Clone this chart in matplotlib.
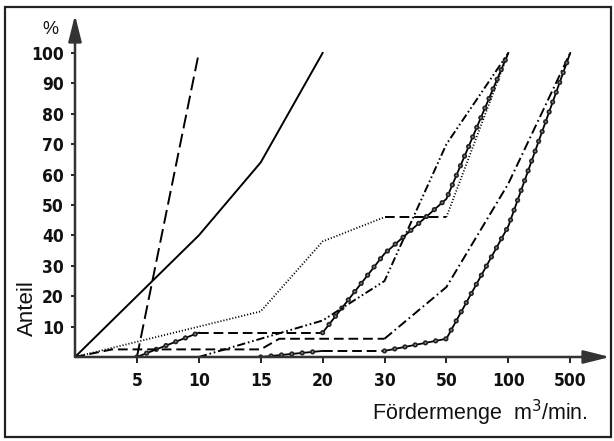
import numpy as np
import matplotlib
matplotlib.use("Agg")
import matplotlib.pyplot as plt
from matplotlib.patches import Rectangle

plt.rcParams['lines.scale_dashes'] = False

# x axis is categorical: Fördermenge in m3/min, equal spacing
categories = [0, 5, 10, 15, 20, 30, 50, 100, 500]
x_tick_values = [5, 10, 15, 20, 30, 50, 100, 500]
y_tick_values = [10, 20, 30, 40, 50, 60, 70, 80, 90, 100]

# long dashes, steep
a_x = [5, 10]
a_y = [0, 100]

# solid
b_x = [0, 10, 15, 20]
b_y = [0, 40, 64, 100]

# dotted, with a dashed plateau
c1_x = [0, 10, 15, 20, 30]
c1_y = [0, 10, 15, 38, 46]
c2_x = [30, 50]
c2_y = [46, 46]
c3_x = [50, 100]
c3_y = [46, 100]

# chain of circles, first
d1_x = [5, 10]
d1_y = [0, 8]
d2_x = [10, 20]
d2_y = [8, 8]
d3_x = [20, 30, 50, 100]
d3_y = [8, 34, 52, 100]

# dash-dot, ends at 500
e1_x = [0, 3, 15, 16.5, 30]
e1_y = [0, 2.5, 2.5, 6, 6]
e2_x = [30, 50, 100, 500]
e2_y = [6, 23, 57, 100]

# chain of circles, second
f1_x = [15, 20]
f1_y = [0, 2]
f2_x = [20, 30]
f2_y = [2, 2]
f3_x = [30, 50, 100, 500]
f3_y = [2, 6, 43, 100]

# dash-dot-dot
g_x = [10, 15, 20, 30, 50, 100]
g_y = [0, 6, 12, 25, 70, 100]


def pos(v):
    return np.interp(v, categories, np.arange(len(categories)))


long_dash = (0, (10, 4))
dash = (0, (7, 3.5))
dotted = (0, (0.8, 1.4))
dash_dot = (0, (7, 2.5, 1.2, 2.5))
dash_dot_dot = (0, (6, 2, 1.2, 2, 1.2, 2))


def chain(ax, x, y):
    ax.plot(pos(x), y, color='k', lw=1.3)
    ax.plot(pos(x), y, color='#222', lw=3.8, linestyle=(0, (0.01, 7.5)),
            dash_capstyle='round')
    ax.plot(pos(x), y, color='#888', lw=1.4, linestyle=(0, (0.01, 7.5)),
            dash_capstyle='round')


fig = plt.figure(figsize=(6.14, 4.41), dpi=100)
fig.patches.append(Rectangle((5 / 614, 4 / 441), 606 / 614, 430 / 441,
                             transform=fig.transFigure, fill=False,
                             lw=1.6, ec='#222'))

ax = fig.add_axes([75 / 614, 84 / 441, 535 / 614, 342 / 441])
ax.set_xlim(0, 535 / 61.9)
ax.set_ylim(0, 342 / 3.04)
for s in ax.spines.values():
    s.set_visible(False)

lw = 1.4
ax.plot(pos(a_x), a_y, color='k', lw=lw, linestyle=long_dash)
ax.plot(pos(b_x), b_y, color='k', lw=lw)
ax.plot(pos(c1_x), c1_y, color='k', lw=1.3, linestyle=dotted)
ax.plot(pos(c2_x), c2_y, color='k', lw=lw, linestyle=dash)
ax.plot(pos(c3_x), c3_y, color='k', lw=1.3, linestyle=dotted)
chain(ax, d1_x, d1_y)
ax.plot(pos(d2_x), d2_y, color='k', lw=lw, linestyle=dash)
chain(ax, d3_x, d3_y)
ax.plot(pos(e1_x), e1_y, color='k', lw=lw, linestyle=dash)
ax.plot(pos(e2_x), e2_y, color='k', lw=lw, linestyle=dash_dot)
chain(ax, f1_x, f1_y)
ax.plot(pos(f2_x), f2_y, color='k', lw=lw, linestyle=dash)
chain(ax, f3_x, f3_y)
ax.plot(pos(g_x), g_y, color='k', lw=lw, linestyle=dash_dot_dot)

# axes with arrow heads
arrow = dict(arrowstyle='-|>,head_length=1.6,head_width=0.4', lw=1.8,
             color='#333', shrinkA=0, shrinkB=0)
ax.annotate('', xy=(1, 0), xytext=(0, 0), xycoords='axes fraction',
            arrowprops=arrow)
ax.annotate('', xy=(0, 1), xytext=(0, 0), xycoords='axes fraction',
            arrowprops=arrow)

tick_font = dict(family='DejaVu Sans', stretch='condensed',
                 size=12.5, weight='bold')
ax.set_xticks(pos(x_tick_values))
ax.set_xticklabels([str(v) for v in x_tick_values], **tick_font)
ax.set_yticks(y_tick_values)
ax.set_yticklabels([str(v) for v in y_tick_values], **tick_font)
ax.tick_params(axis='x', direction='out', length=4, width=1.3, pad=7,
               colors='#111')
ax.tick_params(axis='y', direction='out', length=3, width=1.3, pad=5,
               colors='#111')

fig.text(50 / 614, 1 - 29 / 441, '%', ha='center', va='center',
         family='Liberation Sans', fontsize=13, color='#111')
fig.text(27 / 614, 1 - 308 / 441, 'Anteil', ha='center', va='center',
         rotation=90, family='Liberation Sans', fontsize=16, color='#111')
fig.text(588 / 614, 1 - 420 / 441, 'Fördermenge  m$^3$/min.', ha='right',
         va='baseline', family='Liberation Sans', fontsize=15.5,
         color='#111')

fig.savefig('out.png', dpi=100)
